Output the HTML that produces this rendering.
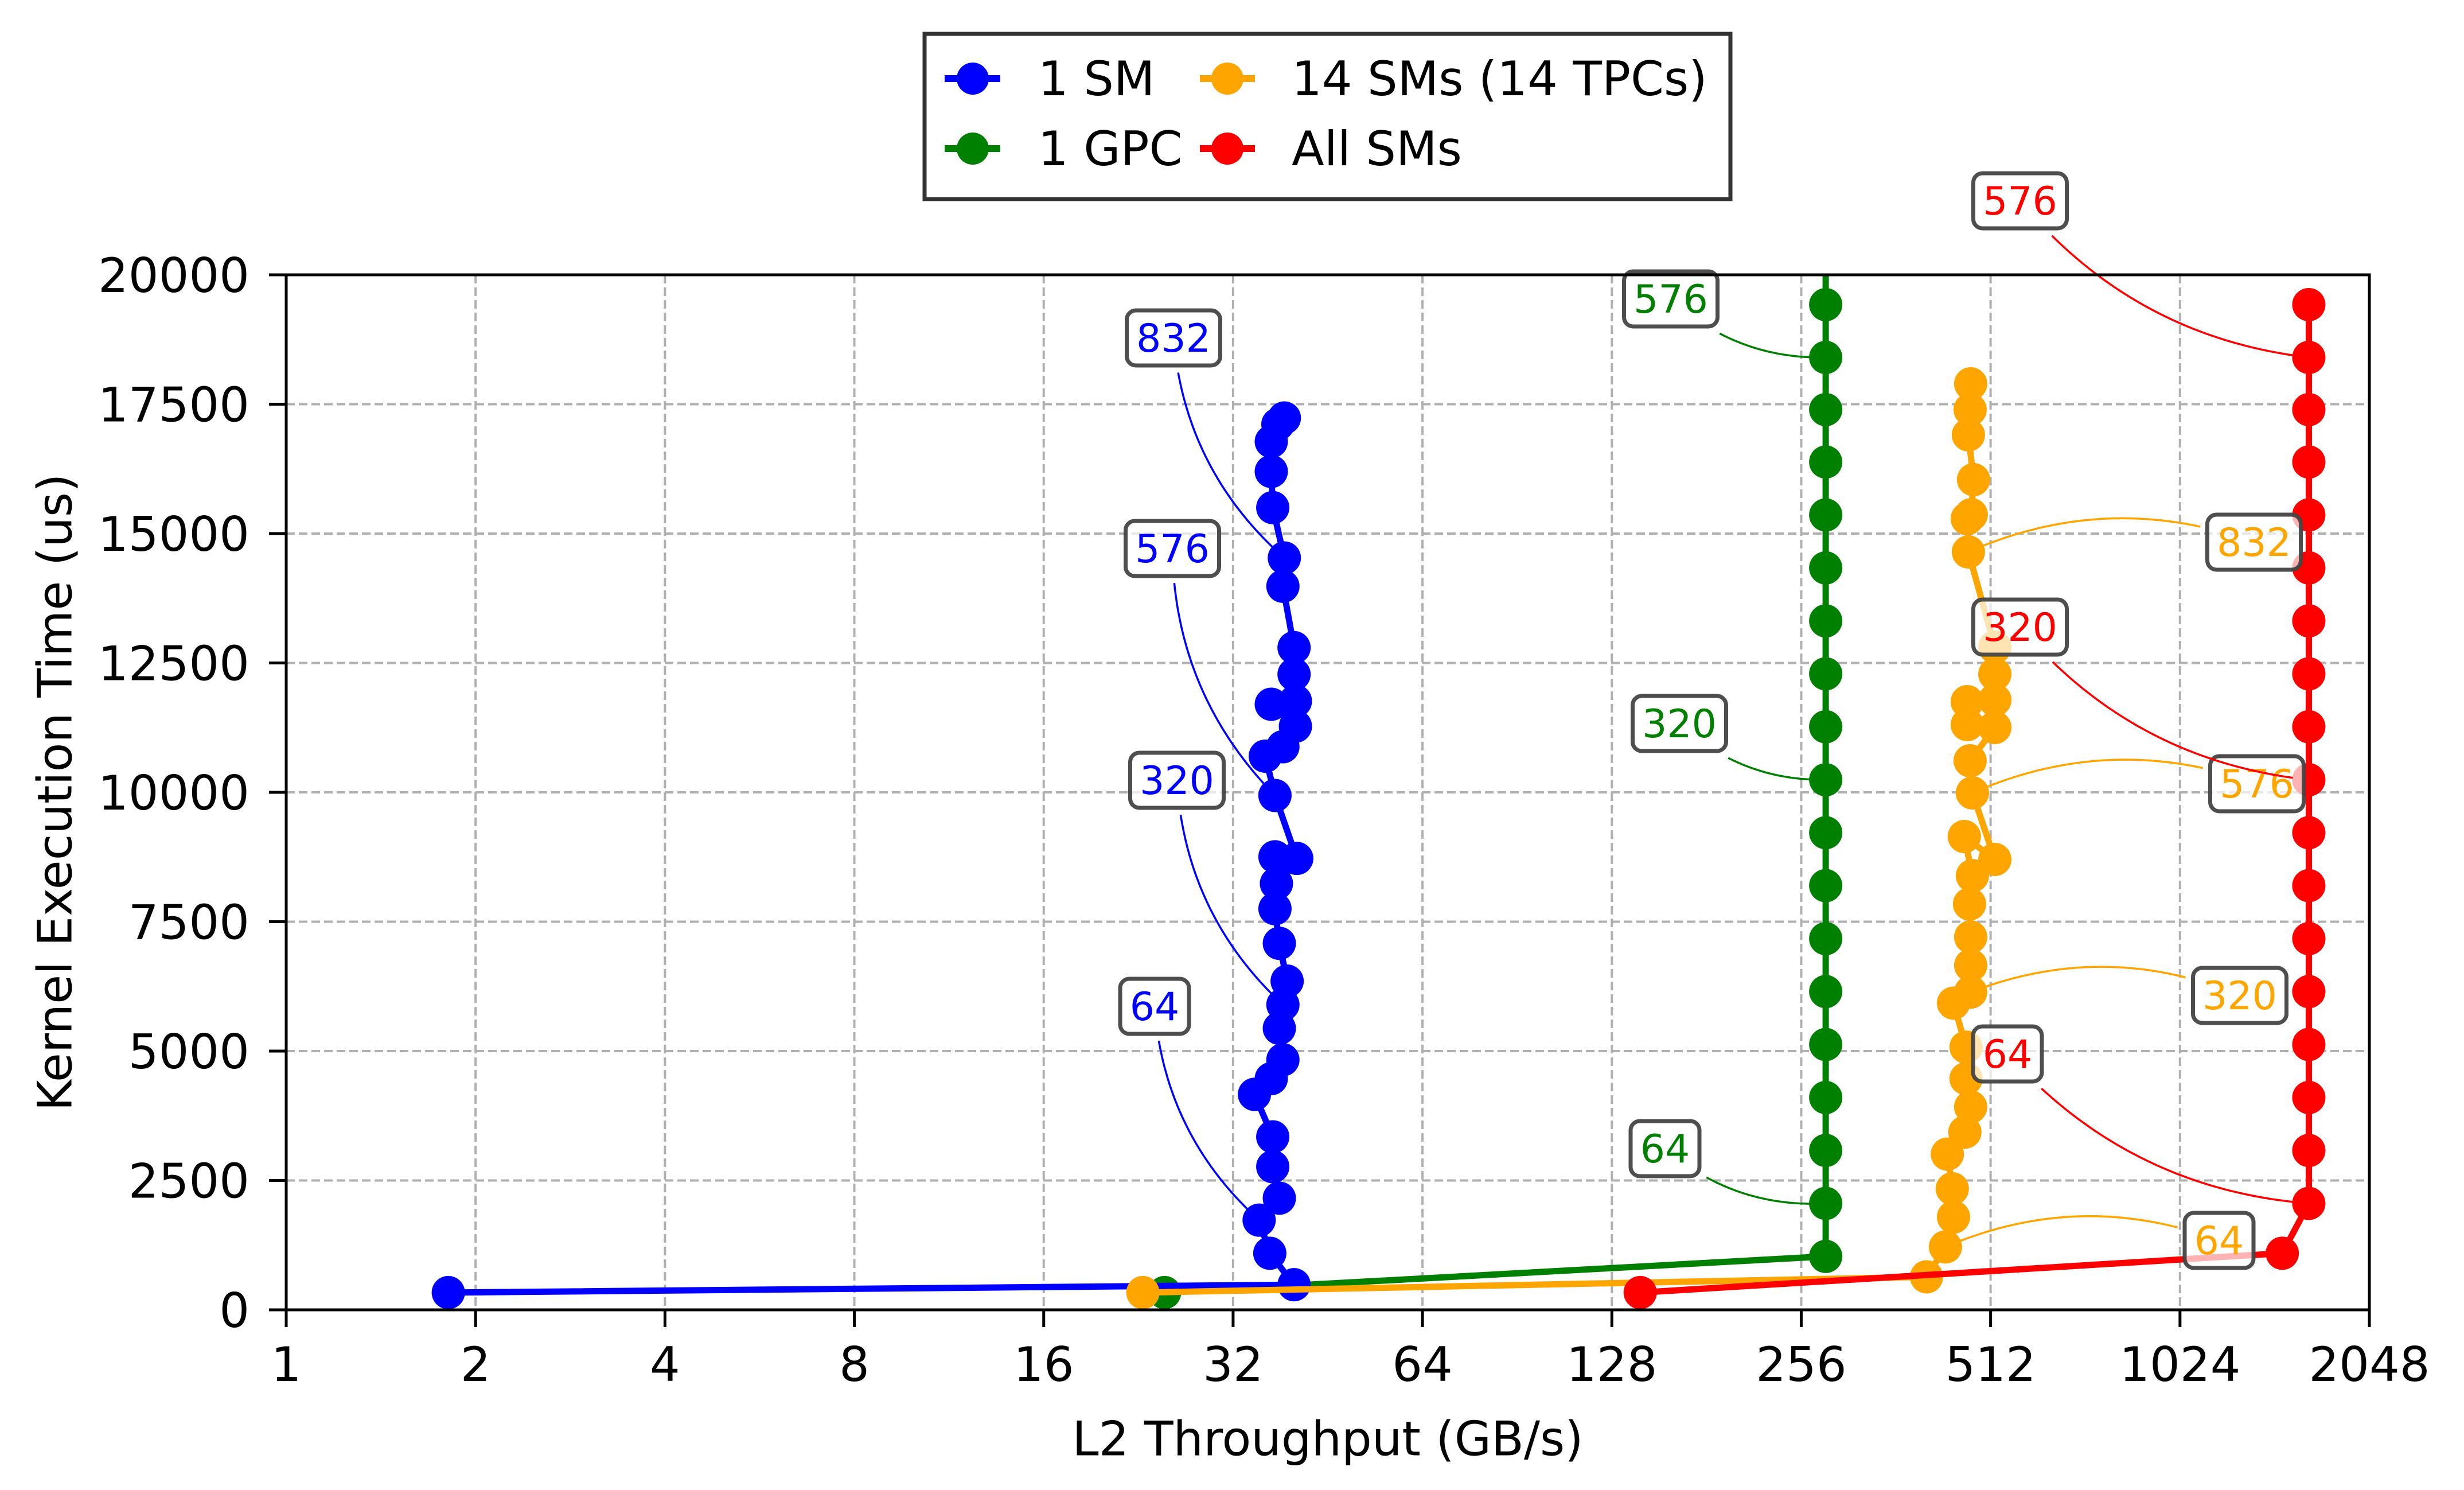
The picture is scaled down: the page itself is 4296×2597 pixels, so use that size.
<!DOCTYPE html>
<html><head><meta charset="utf-8"><style>
html,body{margin:0;padding:0;background:#fff;}
svg{display:block;font-family:"DejaVu Sans","Liberation Sans",sans-serif;}
</style></head><body>
<svg id="chart" width="4296" height="2597" viewBox="0 0 4296 2597" xmlns="http://www.w3.org/2000/svg">
<defs><clipPath id="plotclip"><rect x="499" y="479" width="3632" height="1804"/></clipPath></defs>
<rect x="0" y="0" width="4296" height="2597" fill="#fff"/>
<g id="grid"></g>
<g id="series" clip-path="url(#plotclip)"></g>
<g id="annots"></g>
<rect x="499" y="479" width="3632" height="1804" fill="none" stroke="#000" stroke-width="5"/>
<g id="axes"></g>
<text x="96" y="1381" font-size="83" text-anchor="middle" dominant-baseline="central" transform="rotate(-90 96 1381)">Kernel Execution Time (us)</text>
<text x="2315" y="2508" font-size="83" text-anchor="middle" dominant-baseline="central">L2 Throughput (GB/s)</text>
<g>
<rect x="1612" y="59" width="1405" height="288" fill="#fff" stroke="#333" stroke-width="7"/>
<g><line x1="1647" y1="137" x2="1744" y2="137" stroke="blue" stroke-width="12"/><circle cx="1696" cy="137" r="28" fill="blue"/><text x="1810" y="166" font-size="83">1 SM</text></g>
<g><line x1="2092" y1="137" x2="2188" y2="137" stroke="orange" stroke-width="12"/><circle cx="2140" cy="137" r="28" fill="orange"/><text x="2252" y="166" font-size="83">14 SMs (14 TPCs)</text></g>
<g><line x1="1647" y1="259" x2="1744" y2="259" stroke="green" stroke-width="12"/><circle cx="1696" cy="259" r="28" fill="green"/><text x="1810" y="288" font-size="83">1 GPC</text></g>
<g><line x1="2092" y1="259" x2="2188" y2="259" stroke="red" stroke-width="12"/><circle cx="2140" cy="259" r="28" fill="red"/><text x="2252" y="288" font-size="83">All SMs</text></g>
</g>
</svg>
<script>
// ---- data ----
const xTicks = [1,2,4,8,16,32,64,128,256,512,1024,2048];
const yTicks = [0,2500,5000,7500,10000,12500,15000,17500,20000];
const smX = [1.81,40.0,36.6,35.2,37.9,37.0,37.0,34.6,36.8,38.4,37.9,38.4,39.0,37.9,37.3,37.5,37.3,40.4,37.3,36.0,38.4,40.2,36.8,40.2,40.0,40.0,38.4,38.6,37.0,36.8,36.8,37.7,38.6];
const smY = [334,486,1094,1733,2158,2766,3343,4164,4468,4833,5440,5896,6352,7082,7751,8237,8754,8723,9939,10699,10881,11277,11702,11763,12280,12796,13982,14529,15502,16200,16778,17112,17234];
const gpcX = [24.9,280,280,280,280,280,280,280,280,280,280,280,280,280,280,280,280,280,280,280,280];
const gpcY = [334,1033,2057,3080,4103,5127,6150,7173,8197,9220,10243,11267,12290,13313,14337,15360,16383,17395,18404,19424,20440];
const tpcX = [23.0,405,434,447,445,437,466,476,468,468,447,476,476,476,474,479,465,520,479,475,520,470,470,520,520,520,520,472,470,477,481,472,475,476];
const tpcY = [334,638,1216,1793,2340,3009,3434,3921,4468,5076,5927,6140,6657,7204,7842,8389,9146,8703,9989,10610,11253,11308,11752,11785,12284,12805,12805,14645,15288,15366,16042,16907,17395,17894];
const allX = [142,1489,1641,1641,1641,1641,1641,1641,1641,1641,1641,1641,1641,1641,1641,1641,1641,1641,1641,1641];
const allY = [334,1094,2057,3080,4103,5127,6150,7173,8197,9220,10243,11267,12290,13313,14337,15360,16383,17395,18404,19424];
const annLabels = ["832","576","320","64","576","320","64","832","576","320","64","576","320","64"];
const annColors = ["blue","blue","blue","blue","green","green","green","orange","orange","orange","orange","red","red","red"];
const annTX = [38.6,37.3,38.4,35.2,280,280,280,472,479,476,434,1641,1641,1641];
const annTY = [14529,9939,5896,1733,18404,10243,2057,14645,9989,6140,1216,18404,10243,2057];
// label box centres (layout, pixels)
const annBX = [2046,2044,2052,2013,2913,2928,2903,3930,3935,3905,3869,3522,3522,3500];
const annBY = [589,956,1360,1754,521,1261,2002,945,1366,1735,2162,350,1093,1837];

// ---- axes ----
const L=499,R=4131,T=479,B=2283;
function X(v){return L+Math.log2(v)/11*(R-L);}
function Y(v){return B-v/20000*(B-T);}
const NS="http://www.w3.org/2000/svg";
function mk(tag,attrs,parent){const e=document.createElementNS(NS,tag);for(const k in attrs)e.setAttribute(k,attrs[k]);parent.appendChild(e);return e;}
const grid=document.getElementById('grid'),axes=document.getElementById('axes'),series=document.getElementById('series'),annots=document.getElementById('annots');

xTicks.forEach(t=>{
  const x=X(t);
  if(t>1&&t<2048){const g=mk('line',{x1:x,y1:T,x2:x,y2:B,stroke:'#b0b0b0','stroke-width':4,'stroke-dasharray':'15,7'},grid);
  
  }
  const tk=mk('line',{x1:x,y1:B,x2:x,y2:B+30,stroke:'#000','stroke-width':5},axes);
  
  
  const tx=mk('text',{x:x,y:2407,'font-size':83,'text-anchor':'middle'},axes);tx.textContent=String(t);
  
  
});
yTicks.forEach(t=>{
  const y=Y(t);
  if(t>0&&t<20000){const g=mk('line',{x1:L,y1:y,x2:R,y2:y,stroke:'#b0b0b0','stroke-width':4,'stroke-dasharray':'15,7'},grid);
  
  }
  const tk=mk('line',{x1:L-30,y1:y,x2:L,y2:y,stroke:'#000','stroke-width':5},axes);
  
  
  const tx=mk('text',{x:435,y:y+30,'font-size':83,'text-anchor':'end'},axes);tx.textContent=String(t);
  
  
});

function drawSeries(xs,ys,color,name){
  const g=mk('g',{},series);
  
  
  const pts=xs.map((v,i)=>X(v).toFixed(1)+','+Y(ys[i]).toFixed(1)).join(' ');
  const pl=mk('polyline',{points:pts,fill:'none',stroke:color,'stroke-width':11,'stroke-linejoin':'round'},g);
  
  
  xs.forEach((v,i)=>{const c=mk('circle',{cx:X(v),cy:Y(ys[i]),r:29,fill:color},g);
    
    });
}
drawSeries(gpcX,gpcY,'green','series-1-gpc');
drawSeries(smX,smY,'blue','series-1-sm');
drawSeries(tpcX,tpcY,'orange','series-14-sms');
drawSeries(allX,allY,'red','series-all-sms');

// annotations
annLabels.forEach((lab,i)=>{
  const w=lab.length*43+34,h=96;
  const bx=annBX[i],by=annBY[i];
  const ex=X(annTX[i]),ey=Y(annTY[i]);
  const dx=ex-bx,dy=ey-by,f=0.2;
  const cx=(bx+ex)/2-f*dy,cy=(by+ey)/2+f*dx;
  function q(t){const u=1-t;return [u*u*bx+2*u*t*cx+t*t*ex,u*u*by+2*u*t*cy+t*t*ey];}
  let t0=0;
  for(let t=0;t<=1;t+=0.002){const p=q(t);if(Math.abs(p[0]-bx)>w/2+12||Math.abs(p[1]-by)>h/2+12){t0=t;break;}}
  // shorten end by ~30px: approximate with t1
  let t1=1;
  for(let t=1;t>0;t-=0.002){const p=q(t);if(Math.hypot(p[0]-ex,p[1]-ey)>28){t1=t;break;}}
  // sub-curve t0..t1 via sampling polyline
  const pts=[];for(let k=0;k<=60;k++){const p=q(t0+(t1-t0)*k/60);pts.push(p[0].toFixed(1)+','+p[1].toFixed(1));}
  const a=mk('polyline',{points:pts.join(' '),fill:'none',stroke:annColors[i],'stroke-width':3.5},annots);
  
  
  const r=mk('rect',{x:bx-w/2,y:by-h/2,width:w,height:h,rx:16,fill:'#fff','fill-opacity':0.7,stroke:'#444','stroke-opacity':0.95,'stroke-width':7},annots);
  
  
  const tx=mk('text',{x:bx,y:by+24,'font-size':68,'text-anchor':'middle',fill:annColors[i]},annots);tx.textContent=lab;
  
  
});
</script>
</body></html>
